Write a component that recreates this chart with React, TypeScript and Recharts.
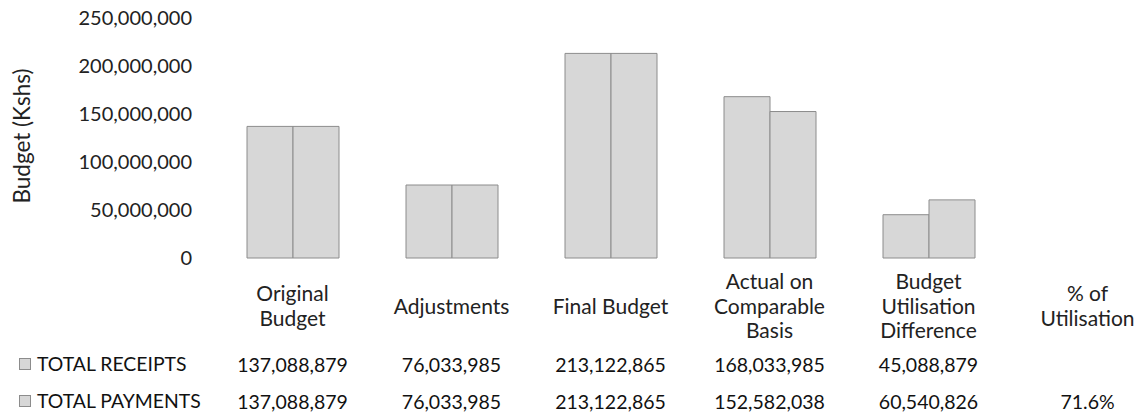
import React from 'react';
import { BarChart, Bar, XAxis, YAxis, Legend } from 'recharts';

const categoryLines = [
  ['Original', 'Budget'],
  ['Adjustments'],
  ['Final Budget'],
  ['Actual on', 'Comparable', 'Basis'],
  ['Budget', 'Utilisation', 'Difference'],
  ['% of', 'Utilisation'],
];
const seriesNames = ['TOTAL RECEIPTS', 'TOTAL PAYMENTS'];
const receipts = [137088879, 76033985, 213122865, 168033985, 45088879, null];
const payments = [137088879, 76033985, 213122865, 152582038, 60540826, null];
const utilisationPct = '71.6%';
const yTicks = [0, 50000000, 100000000, 150000000, 200000000, 250000000];

const FONT = 'Lato, "Open Sans", sans-serif';
const BAR_FILL = '#d7d7d7';
const BAR_STROKE = '#8c8c8c';

const data = categoryLines.map((lines, i) => ({
  name: lines.join(' '),
  receipts: receipts[i],
  payments: payments[i],
}));

const fmt = (v: number) => v.toLocaleString('en-US');

const CategoryTick = (props: any) => {
  const { x, y, payload } = props;
  const i = props.index ?? payload.index;
  const lines = categoryLines[i];
  const lh = 24.5;
  const mid = y + 47;
  const top = mid - ((lines.length - 1) * lh) / 2;
  const rec = receipts[i] != null ? fmt(receipts[i] as number) : '';
  const pay = payments[i] != null ? fmt(payments[i] as number) : i === categoryLines.length - 1 ? utilisationPct : '';
  return (
    <g fontFamily={FONT}>
      {lines.map((l, k) => (
        <text key={k} x={x} y={top + k * lh} textAnchor="middle" dominantBaseline="central" fontSize={21} fill="#222">
          {l}
        </text>
      ))}
      <text x={x} y={y + 106} textAnchor="middle" dominantBaseline="central" fontSize={19.5} fill="#111">
        {rec}
      </text>
      <text x={x} y={y + 143} textAnchor="middle" dominantBaseline="central" fontSize={19.5} fill="#111">
        {pay}
      </text>
    </g>
  );
};

const TableLegend = (props: any) => {
  const items = [...(props.payload || [])].sort(
    (a: any, b: any) => seriesNames.indexOf(a.value) - seriesNames.indexOf(b.value)
  );
  return (
    <div style={{ fontFamily: FONT, fontSize: 19.4, color: '#111' }}>
      {items.map((p: any) => (
        <div key={p.value} style={{ display: 'flex', alignItems: 'center', height: 37 }}>
          <span style={{ width: 10, height: 10, background: BAR_FILL, border: `1px solid ${BAR_STROKE}`, marginRight: 6 }} />
          <span>{p.value}</span>
        </div>
      ))}
    </div>
  );
};

const App: React.FC = () => {
  return (
    <div style={{ position: 'absolute', left: 0, top: 0, width: 1144, height: 416, overflow: 'hidden', background: '#fff' }}>
      <BarChart
        width={1167}
        height={416}
        data={data}
        margin={{ top: 18, right: 0, bottom: 0, left: 0 }}
        barCategoryGap={34}
        barGap={0}
      >
        <XAxis
          dataKey="name"
          height={158}
          axisLine={false}
          tickLine={false}
          tickSize={0}
          tickMargin={0}
          interval={0}
          tick={<CategoryTick />}
        />
        <YAxis
          width={213}
          domain={[0, 250000000]}
          ticks={yTicks}
          axisLine={false}
          tickLine={false}
          tickMargin={15}
          tickFormatter={fmt}
          tick={{ fontFamily: FONT, fontSize: 20, fill: '#222' }}
          label={{
            content: () => (
              <text
                x={21}
                y={136}
                transform="rotate(-90 21 136)"
                textAnchor="middle"
                dominantBaseline="central"
                fontFamily={FONT}
                fontSize={22.5}
                fill="#222"
              >
                Budget (Kshs)
              </text>
            ),
          }}
        />
        <Legend
          layout="vertical"
          align="center"
          verticalAlign="middle"
          content={<TableLegend />}
          wrapperStyle={{ left: 19, top: 345, width: 200, height: 74 }}
        />
        <Bar dataKey="receipts" name={seriesNames[0]} fill={BAR_FILL} stroke={BAR_STROKE} strokeWidth={1} isAnimationActive={false} />
        <Bar dataKey="payments" name={seriesNames[1]} fill={BAR_FILL} stroke={BAR_STROKE} strokeWidth={1} isAnimationActive={false} />
      </BarChart>
    </div>
  );
};

export default App;
